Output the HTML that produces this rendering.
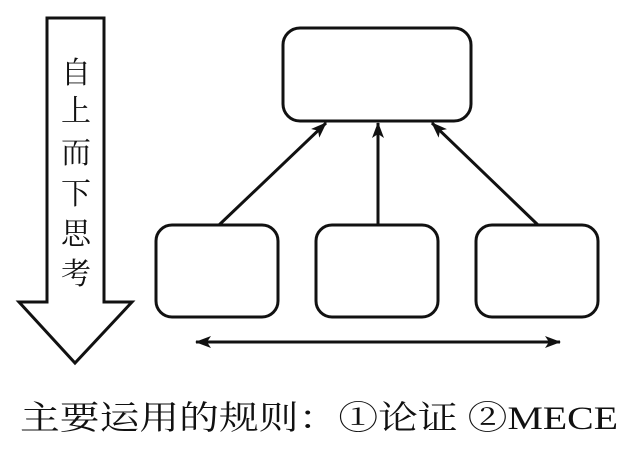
<!DOCTYPE html>
<html><head><meta charset="utf-8"><style>html,body{margin:0;padding:0;background:#fff;width:631px;height:450px;overflow:hidden}</style></head>
<body>
<svg width="631" height="450" xmlns="http://www.w3.org/2000/svg">
<defs>
<marker id="b" viewBox="0 0 16 12" markerWidth="16" markerHeight="12" refX="15" refY="6" orient="auto-start-reverse" markerUnits="userSpaceOnUse"><path d="M0,0 L16,6 L0,12 L4,6 Z" fill="#111"/></marker></defs>
<polygon points="47,18 104,18 104,302 132,302 75,363 19,302 47,302" fill="#fff" stroke="#111" stroke-width="3" stroke-linejoin="miter"/>
<g font-family="'Liberation Serif','Noto Serif CJK SC',serif" font-size="30" fill="#111" text-anchor="middle">
<text x="76" y="83">自</text><text x="76" y="121">上</text><text x="76" y="163">而</text><text x="76" y="204">下</text><text x="76" y="244">思</text><text x="76" y="284">考</text>
</g>
<g fill="#fff" stroke="#111" stroke-width="3">
<rect x="283" y="28" width="188" height="93" rx="17"/>
<rect x="156" y="225" width="122" height="92" rx="16"/>
<rect x="316" y="225" width="122" height="92" rx="16"/>
<rect x="476" y="225" width="122" height="92" rx="16"/>
</g>
<g stroke="#111" stroke-width="3">
<line x1="219" y1="225" x2="326" y2="123" marker-end="url(#b)"/>
<line x1="378" y1="225" x2="378" y2="123" marker-end="url(#b)"/>
<line x1="538" y1="225" x2="432" y2="123" marker-end="url(#b)"/>
<line x1="196" y1="342" x2="560" y2="342" marker-start="url(#b)" marker-end="url(#b)"/>
</g>
<text x="20" y="429" font-family="'Liberation Serif','Noto Serif CJK SC',serif" font-size="33" fill="#111" textLength="598" lengthAdjust="spacingAndGlyphs">主要运用的规则：①论证 ②MECE</text>
</svg>
</body></html>
